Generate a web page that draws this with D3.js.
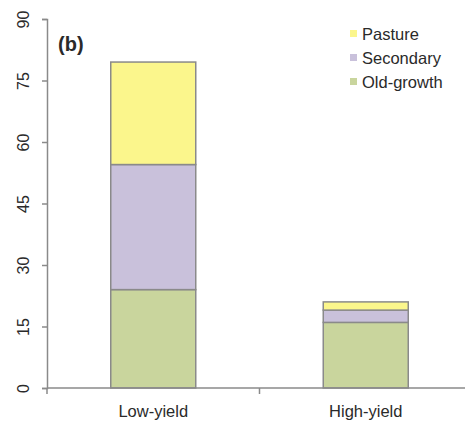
<!DOCTYPE html>
<html>
<head>
<meta charset="utf-8">
<script src="https://cdn.jsdelivr.net/npm/d3@7"></script>
<style>
  html, body { margin: 0; padding: 0; background: #fff; }
  svg { display: block; font-family: Arial, "Liberation Sans", sans-serif; }
</style>
</head>
<body>
<svg id="chart" width="465" height="423"></svg>
<script>
// Land area by yield scenario, stacked by habitat type
const categories = ["Low-yield", "High-yield"];
const oldGrowth = [24, 16];
const secondary = [30.5, 3];
const pasture = [25, 2];
const seriesNames = ["Old-growth", "Secondary", "Pasture"];
const yTicks = [0, 15, 30, 45, 60, 75, 90];

const colors = { "Old-growth": "#c9d59d", "Secondary": "#c9c1db", "Pasture": "#fbf68c" };
const textColor = "#2a2a2a";
const axisColor = "#8a8a8a";

const rows = categories.map((c, i) => ({
  cat: c,
  "Old-growth": oldGrowth[i],
  "Secondary": secondary[i],
  "Pasture": pasture[i]
}));

const svg = d3.select("#chart");
const x0 = 47, x1 = 472, yBottom = 388, yTop = 19;

const x = d3.scaleBand().domain(categories).range([x0, x1]).paddingInner(0.6).paddingOuter(0.3);
const y = d3.scaleLinear().domain([0, 90]).range([yBottom, yTop]);

const stacked = d3.stack().keys(seriesNames)(rows);

// Stacked bars
svg.append("g").selectAll("g").data(stacked).join("g")
  .attr("fill", d => colors[d.key])
  .selectAll("rect").data(d => d).join("rect")
  .attr("x", d => x(d.data.cat))
  .attr("width", x.bandwidth())
  .attr("y", d => y(d[1]))
  .attr("height", d => y(d[0]) - y(d[1]))
  .attr("stroke", axisColor)
  .attr("stroke-width", 1.5);

// Y axis with rotated tick labels
const yAxis = svg.append("g").attr("transform", `translate(${x0},0)`)
  .call(d3.axisLeft(y).tickValues(yTicks).tickSize(5));
yAxis.select(".domain").attr("stroke", axisColor).attr("stroke-width", 1.5);
yAxis.selectAll(".tick line").attr("stroke", axisColor).attr("stroke-width", 1.5);
yAxis.selectAll(".tick text")
  .attr("font-size", 16).attr("fill", textColor)
  .attr("text-anchor", "middle")
  .attr("x", 0).attr("y", 0).attr("dy", "0.35em")
  .attr("transform", "translate(-24,0) rotate(-90)");

// X axis baseline with end and divider ticks
svg.append("line")
  .attr("x1", x0).attr("x2", 465).attr("y1", yBottom).attr("y2", yBottom)
  .attr("stroke", axisColor).attr("stroke-width", 1.5);
svg.append("line")
  .attr("x1", x0).attr("x2", x0).attr("y1", yBottom).attr("y2", yBottom + 6)
  .attr("stroke", axisColor).attr("stroke-width", 1.5);
const midX = (x(categories[0]) + x.bandwidth() + x(categories[1])) / 2;
svg.append("line")
  .attr("x1", midX).attr("x2", midX).attr("y1", yBottom).attr("y2", yBottom + 6)
  .attr("stroke", axisColor).attr("stroke-width", 1.5);

svg.append("g").selectAll("text").data(categories).join("text")
  .attr("x", d => x(d) + x.bandwidth() / 2)
  .attr("y", 417)
  .attr("text-anchor", "middle")
  .attr("font-size", 16.5)
  .attr("fill", textColor)
  .text(d => d);

// Panel label
svg.append("text").attr("x", 58).attr("y", 51)
  .attr("font-size", 20).attr("font-weight", "bold").attr("fill", textColor)
  .text("(b)");

// Legend
const legendOrder = ["Pasture", "Secondary", "Old-growth"];
const lg = svg.append("g").selectAll("g").data(legendOrder).join("g")
  .attr("transform", (d, i) => `translate(350,${40 + i * 24})`);
lg.append("rect").attr("x", 0).attr("y", -10).attr("width", 7).attr("height", 7)
  .attr("fill", d => colors[d]);
lg.append("text").attr("x", 12).attr("y", 0)
  .attr("font-size", 16.5).attr("fill", textColor)
  .text(d => d);
</script>
</body>
</html>
